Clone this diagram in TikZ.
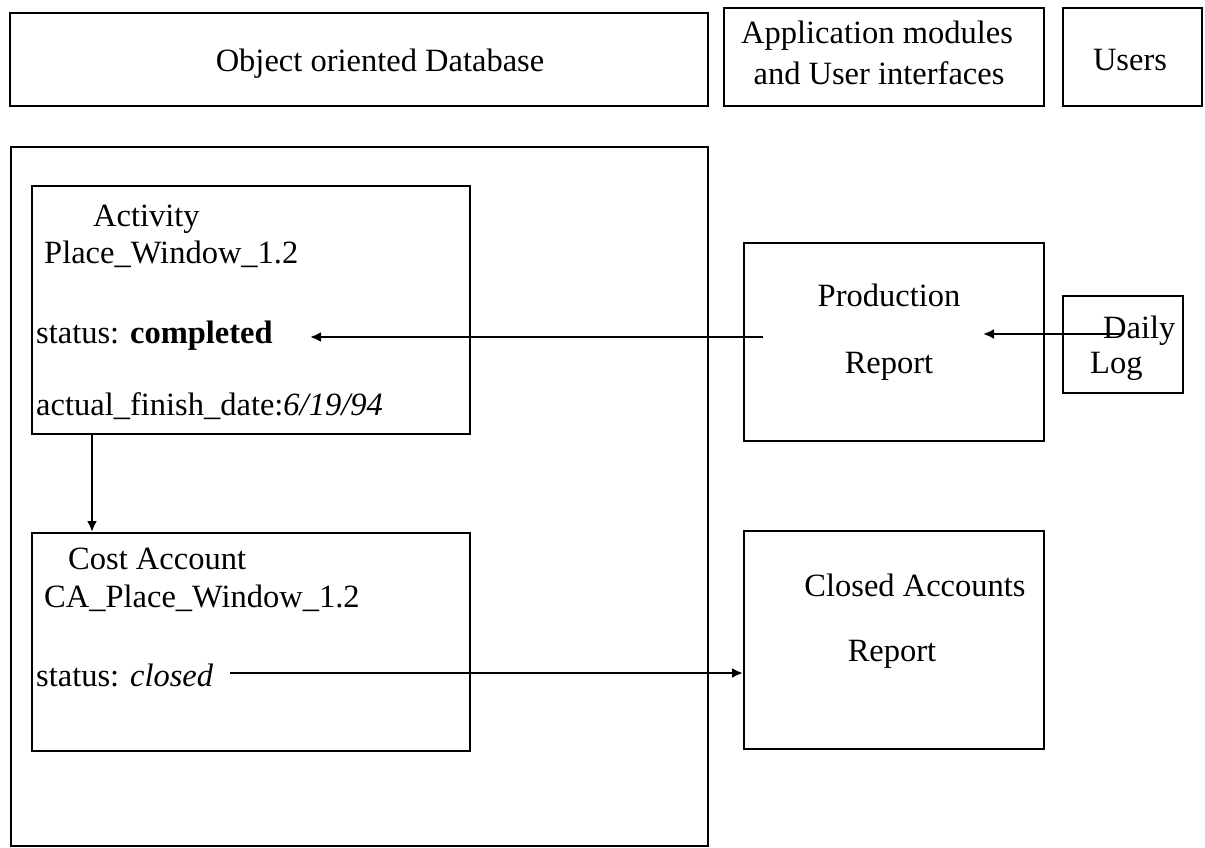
\documentclass[tikz,border=0pt]{standalone}
\usepackage{fontspec}
\setmainfont{Liberation Serif}
\usetikzlibrary{arrows.meta}
\tikzset{
  box/.style={draw=black, line width=2.3pt, inner sep=0pt, anchor=north west},
  txt/.style={inner sep=0pt, anchor=base west, font=\fontsize{32.5}{38}\selectfont},
  ctxt/.style={inner sep=0pt, anchor=base, font=\fontsize{32.5}{38}\selectfont, align=center},
  arr/.style={line width=2.3pt, -{Latex[length=11pt,width=10pt]}},
}
\begin{document}
\begin{tikzpicture}[x=1pt, y=-1pt]
\useasboundingbox (0,0) rectangle (1205,847);

% top row: system layers
\node[box, minimum width=698pt, minimum height=93pt] (db) at (9,12) {};
\node[box, minimum width=320pt, minimum height=98pt] (app) at (723,7) {};
\node[box, minimum width=139pt, minimum height=98pt] (users) at (1062,7) {};
\node[ctxt] (dbt) at (380,71) {Object oriented Database};
\node[ctxt] (appt1) at (877,43) {Application modules};
\node[ctxt] (appt2) at (879,84) {and User interfaces};
\node[ctxt] (userst) at (1130,70) {Users};

% database container
\node[box, minimum width=697pt, minimum height=699pt] (store) at (10,146) {};

% activity object
\node[box, minimum width=438pt, minimum height=248pt] (act) at (31,185) {};
\node[txt] (actt) at (93,226) {Activity};
\node[txt] (actn) at (44,263) {Place\_Window\_1.2};
\node[txt] (acts) at (36,343) {status: \textbf{completed}};
\node[txt] (actf) at (36,415) {actual\_finish\_date:\textit{6/19/94}};

% cost account object
\node[box, minimum width=438pt, minimum height=218pt] (ca) at (31,532) {};
\node[txt] (cat) at (68,569) {Cost Account};
\node[txt] (can) at (44,607) {CA\_Place\_Window\_1.2};
\node[txt] (cas) at (36,686) {status: \textit{closed}};

% reports
\node[box, minimum width=300pt, minimum height=198pt] (prod) at (743,242) {};
\node[ctxt] (prodt1) at (889,306) {Production};
\node[ctxt] (prodt2) at (889,373) {Report};

\node[box, minimum width=300pt, minimum height=218pt] (car) at (743,530) {};
\node[ctxt] (cart1) at (915,596) {Closed Accounts};
\node[ctxt] (cart2) at (892,661) {Report};

% daily log
\node[box, minimum width=120pt, minimum height=97pt] (log) at (1062,295) {};
\node[txt] (logt1) at (1103,338) {Daily};
\node[txt] (logt2) at (1090,373) {Log};

% connector end points
\coordinate (logsrc) at (1122,334);
\coordinate (prodin) at (983,334);
\coordinate (prodsrc) at (763,337);
\coordinate (actin) at (310,337);
\coordinate (casrc) at (230,673);

\draw[arr] (logsrc) -- (prodin);
\draw[arr] (prodsrc) -- (actin);
\draw[arr] (act.south -| 92,0) -- (ca.north -| 92,0);
\draw[arr] (casrc) -- (casrc -| car.west);
\end{tikzpicture}
\end{document}
